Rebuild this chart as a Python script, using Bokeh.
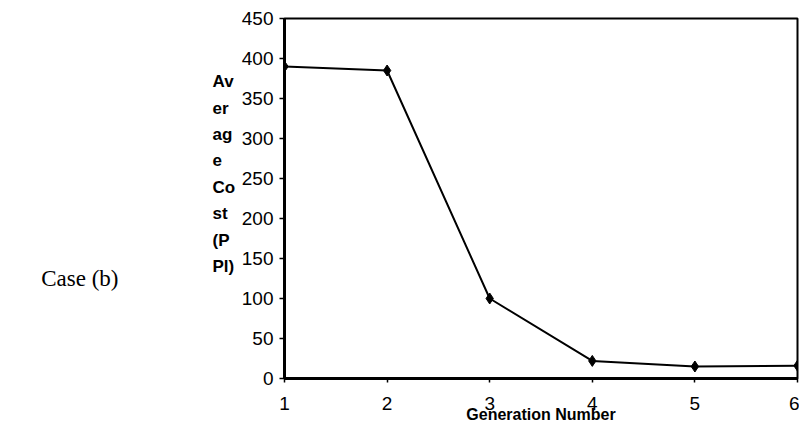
from bokeh.plotting import figure
from bokeh.models import FixedTicker, Range1d
from bokeh.layouts import row
from bokeh.core.properties import value
from bokeh.embed import file_html
from bokeh.resources import INLINE

generation = [1, 2, 3, 4, 5, 6]
avg_cost = [390, 385, 100, 22, 15, 16]
y_ticks = [0, 50, 100, 150, 200, 250, 300, 350, 400, 450]
x_label = "Generation Number"
y_label = "Av\ner\nag\ne\nCo\nst\n(P\nPl)"
case_label = "Case (b)"

LEFT_W = 236
H = 429

# left panel holding the wrapped axis title and the case caption (pixel coordinates)
left = figure(width=LEFT_W, height=H, output_backend="svg", toolbar_location=None,
              x_range=Range1d(0, LEFT_W), y_range=Range1d(H, 0),
              x_axis_type=None, y_axis_type=None, min_border=0)
left.outline_line_color = None
left.xgrid.visible = False
left.ygrid.visible = False
left.text(x=[212], y=[185.5], text=[y_label], text_align="left", text_baseline="middle",
          text_font=value("Liberation Sans"), text_font_style="bold", text_font_size="17px",
          text_color="black", text_line_height=1.39)
left.text(x=[118], y=[310], text=[case_label], text_align="right", text_baseline="middle",
          text_font=value("Liberation Serif"), text_font_size="23px", text_color="black")

p = figure(width=799 - LEFT_W, height=H, output_backend="svg", toolbar_location=None,
           x_range=Range1d(1, 6), y_range=Range1d(0, 450),
           min_border_left=284 - LEFT_W, min_border_right=2, min_border_top=18, min_border_bottom=51)

p.line(generation, avg_cost, line_color="black", line_width=2)
p.scatter(generation, avg_cost, marker="diamond", size=11, fill_color="black", line_color="black")

p.xgrid.visible = False
p.ygrid.visible = False
p.outline_line_color = "black"
p.outline_line_width = 2
p.outline_line_alpha = 1

for ax in (p.xaxis, p.yaxis):
    ax.axis_line_width = 3
    ax.axis_line_color = "black"
    ax.major_tick_line_color = "black"
    ax.major_tick_line_width = 1.5
    ax.major_tick_in = 0
    ax.minor_tick_line_color = None
    ax.major_label_text_font = "Liberation Sans"
    ax.major_label_text_font_size = "19px"
    ax.major_label_text_color = "black"

p.xaxis.ticker = FixedTicker(ticks=generation)
p.yaxis.ticker = FixedTicker(ticks=y_ticks)
p.xaxis.major_tick_out = 4
p.yaxis.major_tick_out = 5
p.xaxis.major_label_standoff = 14
p.yaxis.major_label_standoff = 6

p.xaxis.axis_label = x_label
p.xaxis.axis_label_text_font = "Liberation Sans"
p.xaxis.axis_label_text_font_style = "bold"
p.xaxis.axis_label_text_font_size = "16px"
p.xaxis.axis_label_text_color = "black"
p.xaxis.axis_label_standoff = -7

layout = row(left, p)
open("out.html", "w").write(file_html(layout, INLINE))
